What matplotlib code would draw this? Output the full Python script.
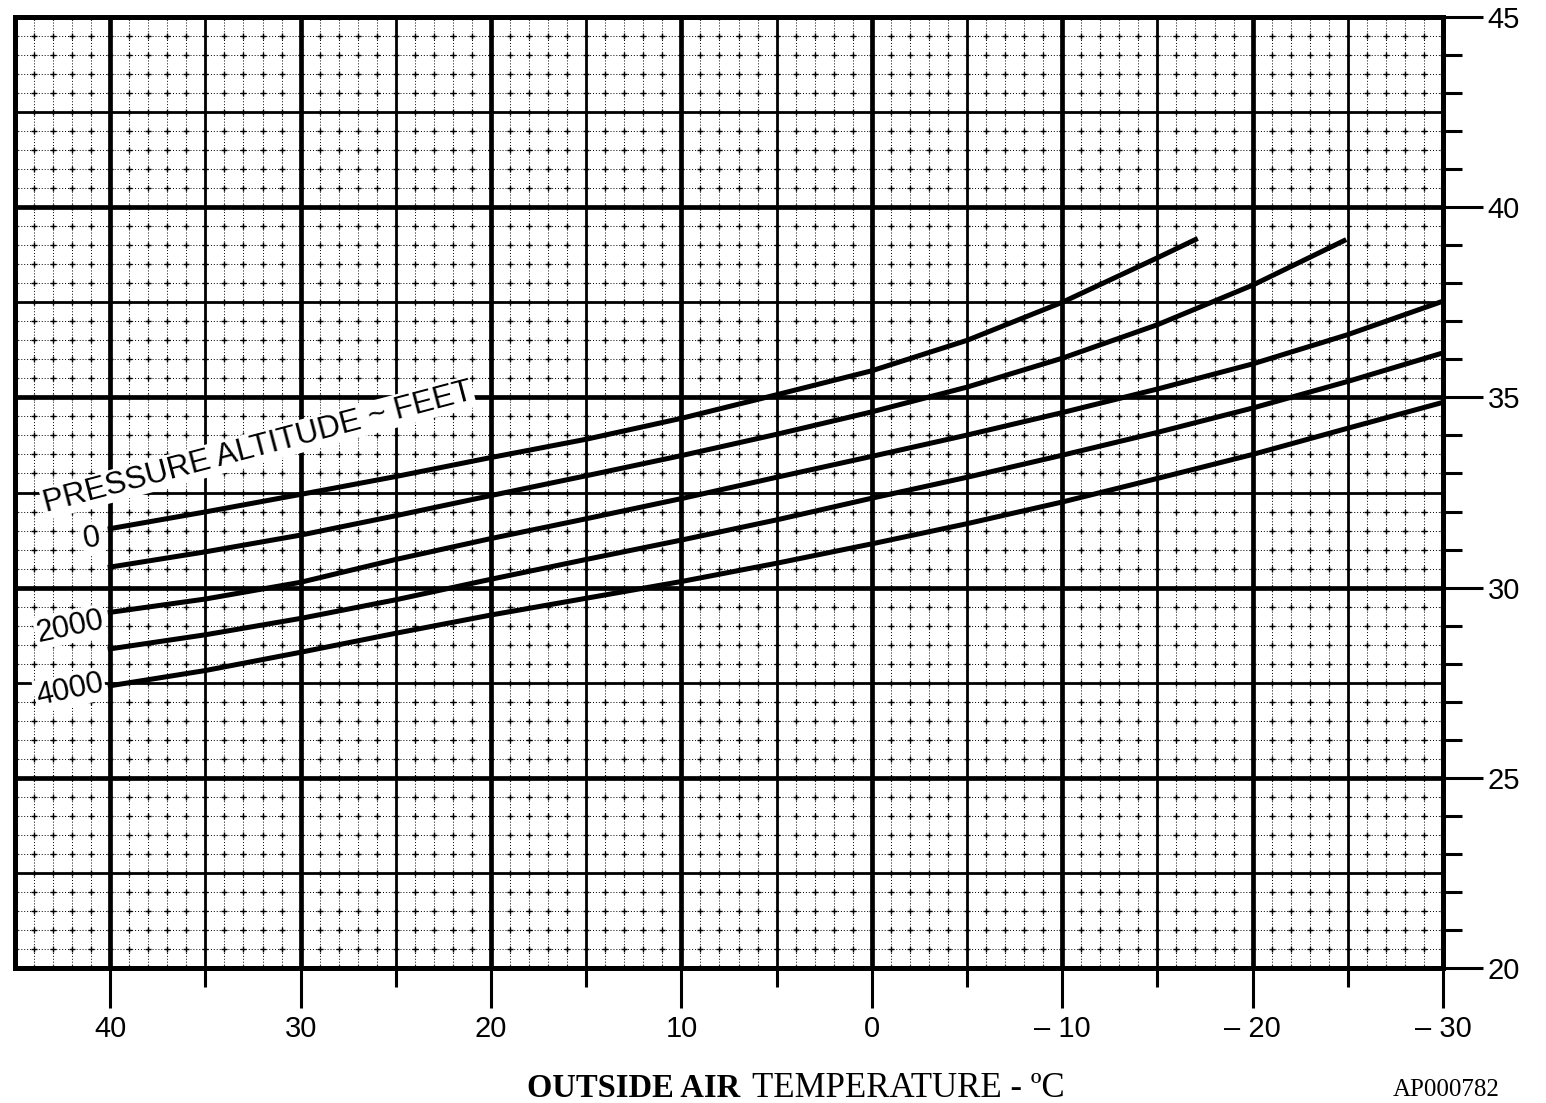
import numpy as np
import matplotlib
matplotlib.use("Agg")
import matplotlib.pyplot as plt

# outside air temperature (deg C) where the curves were read
temp = [40, 35, 30, 25, 20, 15, 10, 5, 0, -5, -10, -15, -20, -25, -30]

# curve values, one list per pressure altitude (ft)
alt0 = [31.55, 31.99, 32.45, 32.92, 33.42, 33.90, 34.45, 35.07, 35.70, 36.50, 37.50, 38.67]
alt0_end = (-17, 39.15)
alt1000 = [30.54, 30.94, 31.38, 31.89, 32.42, 32.94, 33.47, 34.03, 34.62, 35.27, 36.03, 36.91, 37.95]
alt1000_end = (-24.8, 39.12)
alt2000 = [29.35, 29.70, 30.14, 30.74, 31.29, 31.81, 32.34, 32.90, 33.45, 34.01, 34.60, 35.22, 35.88, 36.65, 37.53]
alt3000 = [28.39, 28.76, 29.19, 29.68, 30.22, 30.74, 31.25, 31.78, 32.35, 32.90, 33.48, 34.08, 34.72, 35.42, 36.17]
alt4000 = [27.42, 27.82, 28.30, 28.80, 29.28, 29.72, 30.16, 30.64, 31.15, 31.68, 32.25, 32.87, 33.50, 34.19, 34.87]

xticks = [40, 30, 20, 10, 0, -10, -20, -30]
xticklabels = ["40", "30", "20", "10", "0", "\u2013 10", "\u2013 20", "\u2013 30"]
yticks = [20, 25, 30, 35, 40, 45]

fig = plt.figure(figsize=(15.46, 11.03), dpi=100)
W, H = 1546, 1103
ax = fig.add_axes([15 / W, 1 - 968 / H, (1443 - 15) / W, (968 - 17) / H])
ax.set_xlim(45, -30)
ax.set_ylim(20, 45)

# graph paper: dotted fine grid, + marks, medium and heavy lines
for x in np.arange(-30, 45, 1):
    ax.axvline(x, color="black", lw=0.7, ls=(0, (1, 2)), zorder=1)
for y in np.arange(20, 45, 0.5):
    ax.axhline(y, color="black", lw=0.7, ls=(0, (1, 2)), zorder=1)
gx, gy = np.meshgrid(np.arange(-30, 46, 1), np.arange(20, 45.1, 0.5))
ax.scatter(gx.ravel(), gy.ravel(), marker="+", s=14, lw=1.0, color="black", zorder=2)
for x in np.arange(-25, 40, 10):
    ax.axvline(x, color="black", lw=2.0, zorder=2)
for y in np.arange(22.5, 45, 5):
    ax.axhline(y, color="black", lw=2.0, zorder=2)
for x in np.arange(-20, 41, 10):
    ax.axvline(x, color="black", lw=3.4, zorder=3)
for y in np.arange(25, 41, 5):
    ax.axhline(y, color="black", lw=3.4, zorder=3)

# curves
ax.plot(temp[:len(alt0)] + [alt0_end[0]], alt0 + [alt0_end[1]], color="black", lw=3.6, zorder=5)
ax.plot(temp[:len(alt1000)] + [alt1000_end[0]], alt1000 + [alt1000_end[1]], color="black", lw=3.6, zorder=5)
ax.plot(temp, alt2000, color="black", lw=3.6, zorder=5)
ax.plot(temp, alt3000, color="black", lw=3.6, zorder=5)
ax.plot(temp, alt4000, color="black", lw=3.6, zorder=5)

for s in ax.spines.values():
    s.set_linewidth(3.6)
    s.set_zorder(6)

ax.yaxis.tick_right()
ax.set_yticks(yticks)
ax.set_yticks(np.arange(20, 46, 1), minor=True)
ax.set_yticklabels([str(v) for v in yticks], fontsize=21, family="Liberation Sans")
ax.tick_params(axis="y", which="major", length=29, width=2.2, pad=3)
ax.tick_params(axis="y", which="minor", length=14, width=2.2)

ax.set_xticks(xticks)
ax.set_xticks(np.arange(-25, 40, 10), minor=True)
ax.set_xticklabels(xticklabels, fontsize=21, family="Liberation Sans")
ax.tick_params(axis="x", which="major", length=29, width=2.2, pad=5)
ax.tick_params(axis="x", which="minor", length=14, width=2.2)

box = dict(facecolor="white", edgecolor="none", pad=1)
ax.text(32.25, 33.68, "PRESSURE ALTITUDE ~ FEET", rotation=14.8, fontsize=22.5,
        family="Liberation Sans", ha="center", va="center", bbox=box, zorder=7)
ax.text(40.4, 31.3, "0", rotation=10, fontsize=22, family="Liberation Sans",
        ha="right", va="center", bbox=box, zorder=7)
ax.text(40.2, 28.97, "2000", rotation=12, fontsize=22, family="Liberation Sans",
        ha="right", va="center", bbox=box, zorder=7)
ax.text(40.2, 27.3, "4000", rotation=12, fontsize=22, family="Liberation Sans",
        ha="right", va="center", bbox=box, zorder=7)

fig.text(527 / W, 1 - 1097 / H, "OUTSIDE AIR", fontsize=23.5, fontweight="bold",
         family="Liberation Serif", ha="left", va="baseline")
fig.text(752 / W, 1 - 1097 / H, "TEMPERATURE - \u00baC", fontsize=25,
         family="Liberation Serif", ha="left", va="baseline")
fig.text(1393 / W, 1 - 1101 / H, "AP000782", fontsize=18,
         family="Liberation Serif", ha="left", va="bottom")

fig.savefig("out.png", dpi=100)
